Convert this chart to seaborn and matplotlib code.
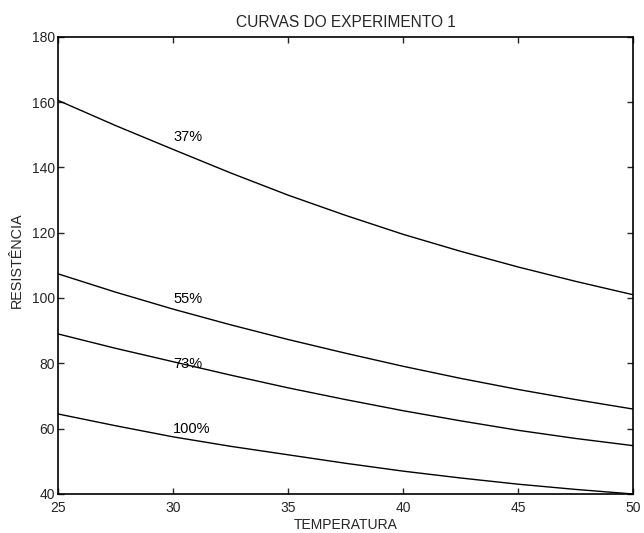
import matplotlib
matplotlib.use("Agg")
import matplotlib.pyplot as plt
import seaborn as sns
import pandas as pd

temperatura = [25, 27.5, 30, 32.5, 35, 37.5, 40, 42.5, 45, 47.5, 50]
res_37 = [160.5, 152.8, 145.5, 138.3, 131.5, 125.3, 119.5, 114.3, 109.5, 105.1, 101.0]
res_55 = [107.4, 101.8, 96.6, 91.8, 87.3, 83.1, 79.1, 75.4, 72.0, 68.9, 66.0]
res_73 = [89.0, 84.6, 80.5, 76.4, 72.5, 68.9, 65.5, 62.4, 59.5, 57.0, 54.8]
res_100 = [64.5, 60.9, 57.5, 54.6, 52.0, 49.4, 47.0, 44.9, 43.0, 41.4, 40.0]
series_names = ["37%", "55%", "73%", "100%"]
label_pos = [(30, 149.3), (30, 99.8), (30, 79.8), (30, 60.0)]
x_ticks = [25, 30, 35, 40, 45, 50]
y_ticks = [40, 60, 80, 100, 120, 140, 160, 180]

rows = []
for name, vals in zip(series_names, [res_37, res_55, res_73, res_100]):
    for t, v in zip(temperatura, vals):
        rows.append({"T": t, "R": v, "serie": name})
df = pd.DataFrame(rows)

sns.set_style("ticks")
plt.rcParams["font.family"] = ["Liberation Sans", "DejaVu Sans"]

fig = plt.figure(figsize=(6.44, 5.33), dpi=100)
ax = fig.add_axes([0.090, 0.0732, 0.893, 0.858])
sns.lineplot(data=df, x="T", y="R", hue="serie", palette=["black"] * 4,
             legend=False, linewidth=1.0, ax=ax)

for name, (lx, ly) in zip(series_names, label_pos):
    ax.text(lx, ly, name, fontsize=10.5, ha="left", va="center", color="black")

ax.set_xlim(25, 50)
ax.set_ylim(40, 180)
ax.set_xticks(x_ticks)
ax.set_yticks(y_ticks)
ax.tick_params(direction="in", top=True, right=True, length=4, width=1,
               labelsize=10)
ax.tick_params(axis="x", pad=5)
ax.tick_params(axis="y", pad=2)
for s in ax.spines.values():
    s.set_linewidth(1.2)
    s.set_color("black")
ax.set_xlabel("TEMPERATURA", fontsize=10, labelpad=2)
ax.set_ylabel("RESISTÊNCIA", fontsize=10.4, labelpad=6, y=0.511)
ax.set_title("CURVAS DO EXPERIMENTO 1", fontsize=11.2, pad=7)

fig.savefig("out.png", dpi=100)
